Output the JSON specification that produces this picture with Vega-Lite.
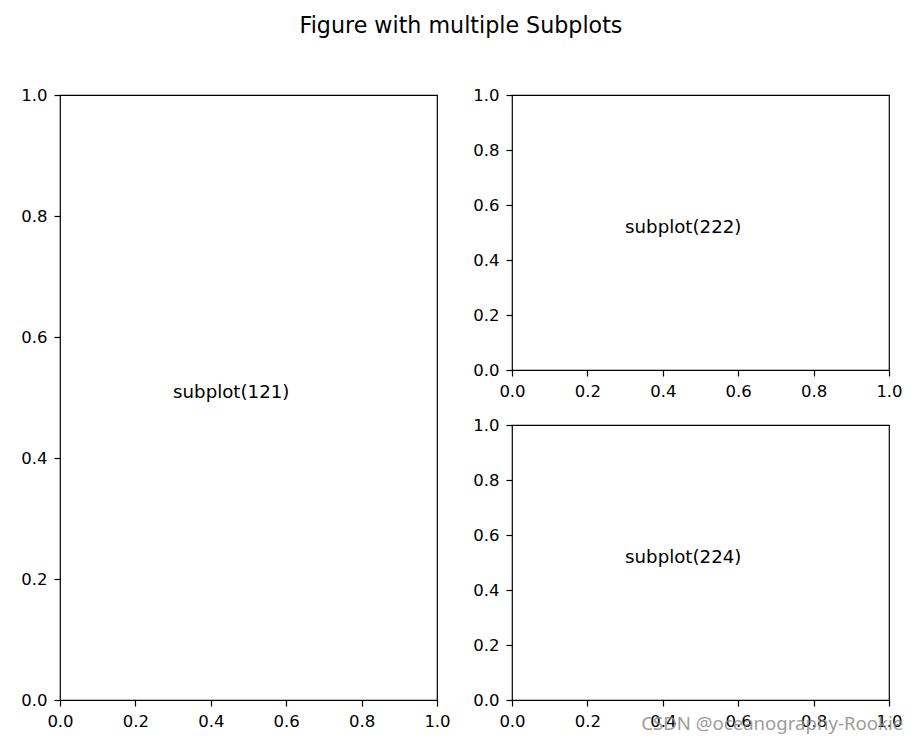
{
  "$schema": "https://vega.github.io/schema/vega-lite/v6.json",
  "padding": {"left": 20, "top": 15, "right": 5, "bottom": 5},
  "background": "white",
  "title": {"text": "Figure with multiple Subplots", "fontSize": 22.2, "font": "DejaVu Sans", "fontWeight": "normal", "color": "#000", "anchor": "middle", "offset": 49, "dx": -1},
  "config": {
    "font": "DejaVu Sans",
    "view": {"stroke": "#000", "strokeWidth": 1.2},
    "axis": {"grid": false, "domain": false, "ticks": true, "tickColor": "#000", "tickSize": 6, "tickWidth": 1.2, "labelFont": "DejaVu Sans", "labelFontSize": 16.5, "labelColor": "#000", "labelPadding": 7, "labelFlush": false, "labelOverlap": false}
  },
  "bounds": "flush",
  "spacing": 75,
  "hconcat": [
    {
      "width": 377,
      "height": 605,
      "data": {"values": [{"x": 0.3, "y": 0.5, "label": "subplot(121)"}]},
      "mark": {"type": "text", "align": "left", "baseline": "alphabetic", "fontSize": 18.2, "color": "#000", "font": "DejaVu Sans"},
      "encoding": {
        "x": {"field": "x", "type": "quantitative", "scale": {"domain": [0, 1], "nice": false}, "axis": {"title": null, "values": [0, 0.2, 0.4, 0.6, 0.8, 1.0], "format": ".1f"}},
        "y": {"field": "y", "type": "quantitative", "scale": {"domain": [0, 1], "nice": false}, "axis": {"title": null, "values": [0, 0.2, 0.4, 0.6, 0.8, 1.0], "format": ".1f"}},
        "text": {"field": "label"}
      }
    },
    {
      "vconcat": [
        {
          "width": 377,
          "height": 275,
          "data": {"values": [{"x": 0.3, "y": 0.5, "label": "subplot(222)"}]},
          "mark": {"type": "text", "align": "left", "baseline": "alphabetic", "fontSize": 18.2, "color": "#000", "font": "DejaVu Sans"},
          "encoding": {
            "x": {"field": "x", "type": "quantitative", "scale": {"domain": [0, 1], "nice": false}, "axis": {"title": null, "values": [0, 0.2, 0.4, 0.6, 0.8, 1.0], "format": ".1f"}},
            "y": {"field": "y", "type": "quantitative", "scale": {"domain": [0, 1], "nice": false}, "axis": {"title": null, "values": [0, 0.2, 0.4, 0.6, 0.8, 1.0], "format": ".1f"}},
            "text": {"field": "label"}
          }
        },
        {
          "width": 377,
          "height": 275,
          "encoding": {
            "x": {"field": "x", "type": "quantitative", "scale": {"domain": [0, 1], "nice": false}, "axis": {"title": null, "values": [0, 0.2, 0.4, 0.6, 0.8, 1.0], "format": ".1f"}},
            "y": {"field": "y", "type": "quantitative", "scale": {"domain": [0, 1], "nice": false}, "axis": {"title": null, "values": [0, 0.2, 0.4, 0.6, 0.8, 1.0], "format": ".1f"}},
            "text": {"field": "label"}
          },
          "layer": [
            {
              "data": {"values": [{"x": 0.3, "y": 0.5, "label": "subplot(224)"}]},
              "mark": {"type": "text", "align": "left", "baseline": "alphabetic", "fontSize": 18.2, "color": "#000", "font": "DejaVu Sans"}
            },
            {
              "data": {"values": [{"x": 0.343, "y": -0.087, "label": "CSDN @oceanography-Rookie"}]},
              "mark": {"type": "text", "align": "left", "baseline": "middle", "fontSize": 18.6, "color": "#8c8c8c", "opacity": 0.85, "font": "Noto Sans", "clip": false}
            }
          ]
        }
      ],
      "spacing": 55,
      "bounds": "flush"
    }
  ]
}
